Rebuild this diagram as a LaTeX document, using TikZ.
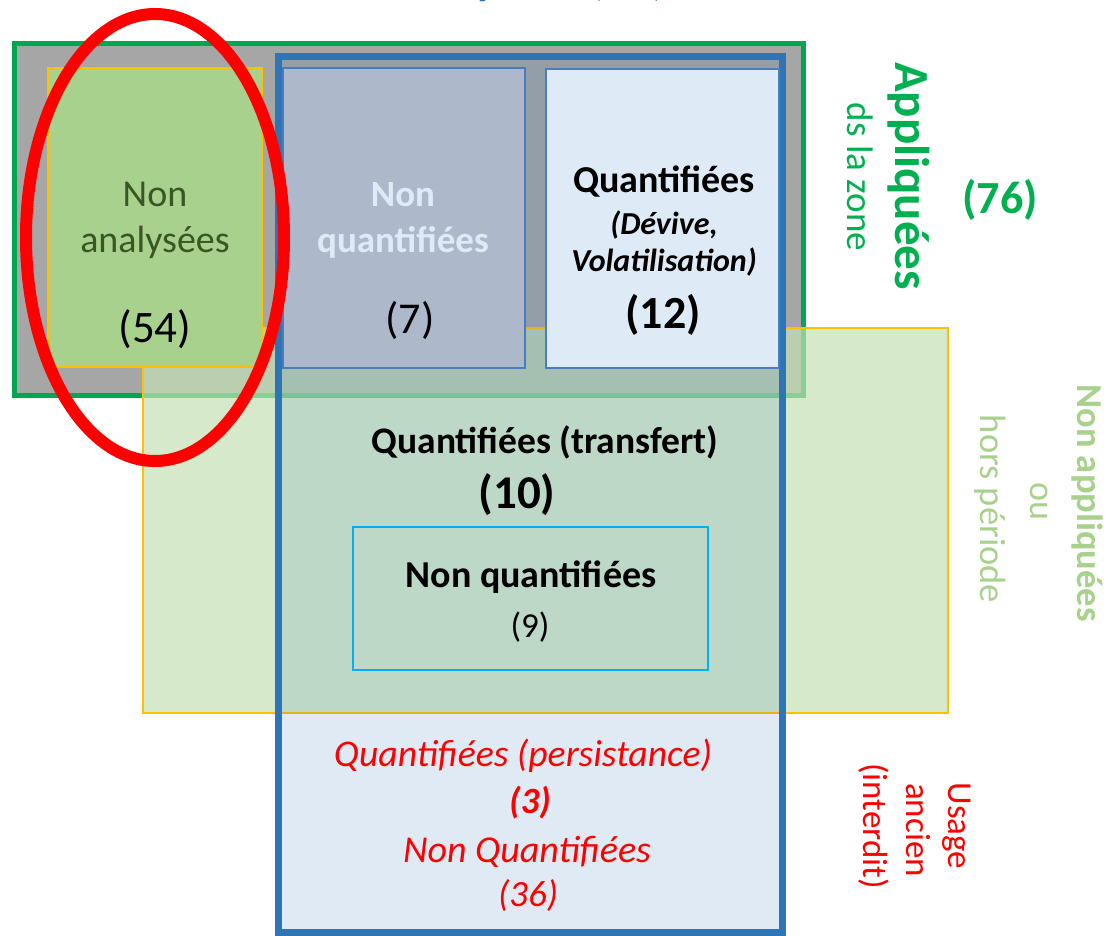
\documentclass[tikz,border=0pt]{standalone}
\usepackage{fontspec}
\setmainfont{Carlito}
\usetikzlibrary{shapes.geometric}
\definecolor{gbord}{HTML}{00A651}
\definecolor{gfill}{HTML}{A6A6A6}
\definecolor{yline}{HTML}{FFC000}
\definecolor{yfill}{HTML}{C5E0B4}
\definecolor{bline}{HTML}{2E75B6}
\definecolor{subline}{HTML}{4A7EBB}
\definecolor{sevfill}{HTML}{ADB9CA}
\definecolor{twfill}{HTML}{DEEBF7}
\definecolor{nafill}{HTML}{A9D18E}
\definecolor{natext}{HTML}{385723}
\definecolor{cyanline}{HTML}{00B0F0}
\definecolor{txtgreen}{HTML}{00B050}
\definecolor{ltgreen}{HTML}{A9D18E}
\definecolor{redc}{HTML}{FF0000}
\newcommand{\sz}[1]{\fontsize{#1}{#1}\selectfont}
\tikzset{
  box/.style={rectangle, inner sep=0pt, outer sep=0pt, anchor=north west},
  lbl/.style={inner sep=0pt, anchor=base},
  vlbl/.style={inner sep=0pt, anchor=base, rotate=-90},
}
\begin{document}
\begin{tikzpicture}[x=1pt,y=-1pt]
\useasboundingbox (0,0) rectangle (1110,936);
\clip (0,0) rectangle (1110,936);
% title (cut off at top)
\node[lbl, text=bline, font=\sz{46}\bfseries] (title) at (527,-5) {Analysées (77)};
% Appliquées box
\node[box, draw=gbord, fill=gfill, line width=5pt, minimum width=788.5pt, minimum height=352pt] (appl) at (14.5,43.5) {};
% Non appliquées box (semi-transparent)
\node[box, draw=yline, fill=yfill, fill opacity=0.7, line width=2pt, minimum width=805pt, minimum height=385pt] (nonappl) at (143,328) {};
% Analysées box
\node[box, draw=bline, fill=bline, fill opacity=0.15, line width=7pt, minimum width=504pt, minimum height=875.5pt] (analy) at (278,56.5) {};
% sub boxes
\node[box, draw=yline, fill=nafill, line width=2pt, minimum width=214pt, minimum height=299pt] (nonana) at (48,68) {};
\node[box, draw=subline, fill=sevfill, line width=2pt, minimum width=242.5pt, minimum height=300pt] (nq7) at (282.5,68) {};
\node[box, draw=subline, fill=twfill, line width=2pt, minimum width=233pt, minimum height=299pt] (q12) at (546,69) {};
\node[box, draw=cyanline, line width=2pt, minimum width=355pt, minimum height=143pt] (nq9) at (353,527) {};
% texts: Non analysées
\node[lbl, text=natext, font=\sz{38}] (na1) at (155,207) {Non};
\node[lbl, text=natext, font=\sz{38}] (na2) at (155,252) {analysées};
\node[lbl, text=black, font=\sz{45}] (na3) at (155,342) {(54)};
% Non quantifiées (7)
\node[lbl, text=twfill, font=\sz{37}\bfseries] (nq1) at (403,207) {Non};
\node[lbl, text=twfill, font=\sz{37}\bfseries] (nq2) at (403,252) {quantifiées};
\node[lbl, text=black, font=\sz{44}] (nq3) at (410,333) {(7)};
% Quantifiées (12)
\node[lbl, text=black, font=\sz{38}\bfseries] (q1) at (664,193) {Quantifiées};
\node[lbl, text=black, font=\sz{32}\bfseries\itshape] (q2) at (664,234) {(Dévive,};
\node[lbl, text=black, font=\sz{32}\bfseries\itshape] (q3) at (664,271) {Volatilisation)};
\node[lbl, text=black, font=\sz{46}\bfseries] (q4) at (663,328) {(12)};
% transfert
\node[lbl, text=black, font=\sz{37.5}\bfseries] (t1) at (545,453) {Quantifiées (transfert)};
\node[lbl, text=black, font=\sz{47}\bfseries] (t2) at (517,508) {(10)};
\node[lbl, text=black, font=\sz{38}\bfseries] (t3) at (531,587) {Non quantifiées};
\node[lbl, text=black, font=\sz{35}] (t4) at (530,637) {(9)};
% red italic
\node[lbl, text=redc, font=\sz{37.7}\itshape] (r1) at (523,766) {Quantifiées (persistance)};
\node[lbl, text=redc, font=\sz{37}\bfseries\itshape] (r2) at (530,813) {(3)};
\node[lbl, text=redc, font=\sz{38}\itshape] (r3) at (527,862) {Non Quantifiées};
\node[lbl, text=redc, font=\sz{37}\itshape] (r4) at (528,906) {(36)};
% right labels
\node[vlbl, text=txtgreen, font=\sz{49}\bfseries] (ap1) at (895,176) {Appliquées};
\node[vlbl, text=txtgreen, font=\sz{37}] (ap2) at (847,177) {ds la zone};
\node[lbl, text=txtgreen, font=\sz{46}\bfseries] (ap3) at (1000,213) {(76)};
\node[vlbl, text=ltgreen, font=\sz{36.5}\bfseries] (nap1) at (1077,503) {Non appliquées};
\node[vlbl, text=ltgreen, font=\sz{36}] (nap2) at (1030,501) {ou};
\node[vlbl, text=ltgreen, font=\sz{36.5}] (nap3) at (980,509) {hors période};
\node[vlbl, text=redc, font=\sz{35}] (u1) at (948,826) {Usage};
\node[vlbl, text=redc, font=\sz{35}] (u2) at (906,830) {ancien};
\node[vlbl, text=redc, font=\sz{35}] (u3) at (863,826) {(interdit)};
% red ellipse
\node[ellipse, draw=redc, line width=12pt, inner sep=0pt, minimum width=258pt, minimum height=447pt] (circ) at (155,237.5) {};
\end{tikzpicture}
\end{document}
